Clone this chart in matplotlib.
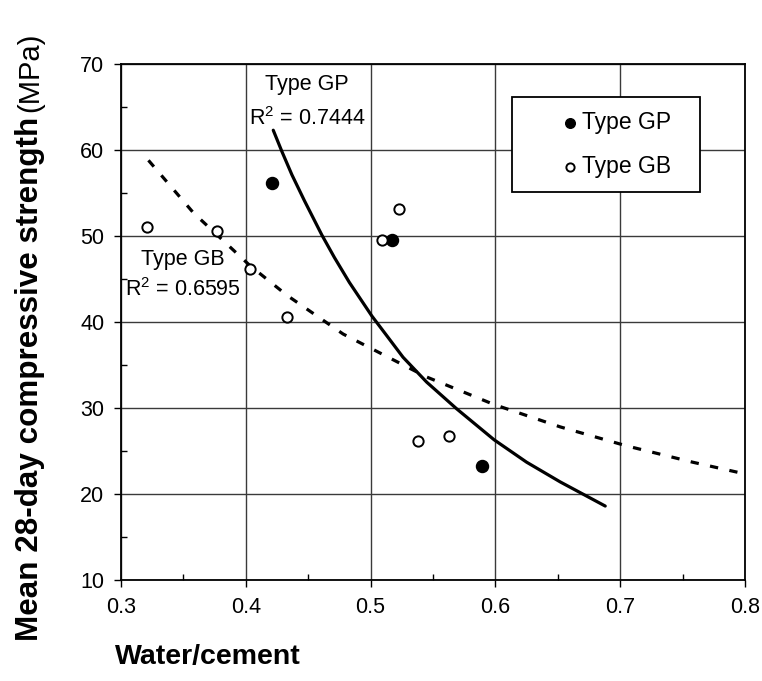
# Water/cement ratio vs mean 28-day compressive strength
import matplotlib
matplotlib.use('Agg')
import matplotlib.pyplot as plt
from matplotlib.ticker import MultipleLocator

plt.rcParams['font.family'] = ['Liberation Sans', 'DejaVu Sans']
plt.rcParams['mathtext.fontset'] = 'custom'
plt.rcParams['mathtext.rm'] = 'Liberation Sans'

# measured points
gp_wc = [0.421, 0.517, 0.589]
gp_strength = [56.2, 49.5, 23.3]
gb_wc = [0.321, 0.377, 0.403, 0.433, 0.509, 0.523, 0.538, 0.563]
gb_strength = [51.0, 50.6, 46.2, 40.6, 49.5, 53.1, 26.2, 26.7]

# trend lines
gp_fit_wc = [0.422, 0.429, 0.437, 0.447, 0.461, 0.471, 0.483, 0.501, 0.513,
             0.526, 0.545, 0.569, 0.599, 0.625, 0.652, 0.670, 0.688]
gp_fit_strength = [62.3, 59.8, 57.1, 54.1, 50.1, 47.5, 44.6, 40.7, 38.4,
                   35.9, 33.0, 29.9, 26.3, 23.7, 21.4, 20.0, 18.6]
gb_fit_wc = [0.322, 0.358, 0.403, 0.433, 0.478, 0.545, 0.599, 0.652,
             0.705, 0.758, 0.798]
gb_fit_strength = [58.8, 52.7, 46.6, 43.1, 38.6, 33.6, 30.4, 27.8,
                   25.6, 23.7, 22.4]

fig = plt.figure(figsize=(7.62, 6.81), dpi=100)
ax = fig.add_axes([121 / 762, 1 - 580 / 681, 624 / 762, 516 / 681])

ax.set_xlim(0.3, 0.8)
ax.set_ylim(10, 70)
ax.xaxis.set_minor_locator(MultipleLocator(0.05))
ax.yaxis.set_major_locator(MultipleLocator(10))
ax.yaxis.set_minor_locator(MultipleLocator(5))
ax.set_xticks([0.3, 0.4, 0.5, 0.6, 0.7, 0.8])
ax.set_xticklabels(['0.3', '0.4', '0.5', '0.6', '0.7', '0.8'])
ax.tick_params(which='major', direction='out', length=5, width=1,
               labelsize=15.5, pad=7)
ax.tick_params(which='minor', direction='in', length=4, width=1)
ax.grid(True, which='major', color='#3a3a3a', linewidth=1)
ax.set_axisbelow(True)
for s in ax.spines.values():
    s.set_color('black')
    s.set_linewidth(1.3)

ax.plot(gp_fit_wc, gp_fit_strength, color='black', linewidth=2.3,
        solid_capstyle='round', zorder=3)
ax.plot(gb_fit_wc, gb_fit_strength, color='black', linewidth=2.3,
        dashes=(2.6, 3.6), zorder=3)

ax.scatter(gp_wc, gp_strength, s=75, color='black', zorder=4, label='Type GP')
ax.scatter(gb_wc, gb_strength, s=55, facecolor='white', edgecolor='black',
           linewidth=1.4, zorder=4, label='Type GB')

ax.text(0.449, 67.6, 'Type GP', ha='center', va='center', fontsize=15.5)
ax.text(0.449, 63.7, 'R$^2$ = 0.7444', ha='center', va='center', fontsize=15.5)
ax.text(0.3497, 47.3, 'Type GB', ha='center', va='center', fontsize=15.5)
ax.text(0.3497, 43.8, 'R$^2$ = 0.6595', ha='center', va='center', fontsize=15.5)

x0 = (512 - 121) / 624
top = 1 - (97 - 64) / 516
leg = ax.legend(loc='upper left',
                bbox_to_anchor=(x0, top - 0.1, (700 - 512) / 624, 0.1),
                mode='expand', borderaxespad=0,
                fontsize=16.5, frameon=True, fancybox=False, framealpha=1,
                edgecolor='black', markerscale=0.8, handletextpad=-1.35,
                borderpad=0.62, labelspacing=0.9, handlelength=3.8)
leg.get_frame().set_linewidth(1.3)

fig.text(115 / 762, 1 - 657 / 681, 'Water/cement', fontsize=20.5,
         fontweight='bold', ha='left', va='center')

# y label: bold part plus plain unit
ylab = fig.text(30 / 762, 1 - 641 / 681, 'Mean 28-day compressive strength',
                fontsize=22.6, fontweight='bold', rotation=90,
                ha='center', va='bottom')
fig.canvas.draw()
bb = ylab.get_window_extent().transformed(fig.transFigure.inverted())
fig.text(30 / 762, bb.y1 + 0.007, '(MPa)', fontsize=21, rotation=90,
         ha='center', va='bottom')

fig.savefig('out.png', dpi=100)
